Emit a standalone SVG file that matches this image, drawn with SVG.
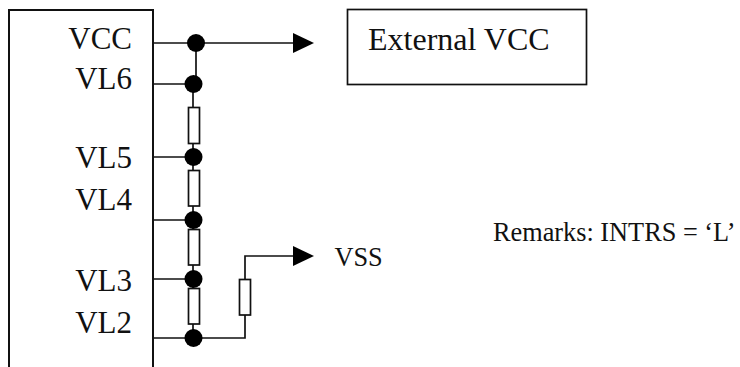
<svg xmlns="http://www.w3.org/2000/svg" width="740" height="367" viewBox="0 0 740 367">
<defs>
<marker id="arrow" markerUnits="userSpaceOnUse" markerWidth="21" markerHeight="21" refX="0" refY="10.5" orient="auto"><path d="M0 0.5L21 10.5L0 20.5Z" fill="#000"/></marker>
</defs>
<style>
text{font-family:"Liberation Serif","Times New Roman",serif;fill:#111}
.big{font-size:31px}
.ext{font-size:32px}
.pin{text-anchor:end}
.small{font-size:26.300px}
.wire{fill:none;stroke:#111;stroke-width:1.700}
.res{fill:#fff;stroke:#111;stroke-width:1.700}
.dot{fill:#000}
.box{fill:#fff;stroke:#111;stroke-width:1.700}
</style>
<rect width="740" height="367" fill="#fff"/>
<g id="chip">
<path d="M9 367V10H153V367" fill="none" stroke="#111" stroke-width="2"/>
<text class="big pin" x="132" y="49">VCC</text>
<text class="big pin" x="132" y="89">VL6</text>
<text class="big pin" x="132" y="168">VL5</text>
<text class="big pin" x="132" y="210">VL4</text>
<text class="big pin" x="132" y="291">VL3</text>
<text class="big pin" x="132" y="333">VL2</text>
</g>
<g id="external-vcc">
<rect class="box" x="347.500" y="9.500" width="239" height="75"/>
<text class="ext" x="368" y="50">External VCC</text>
</g>
<g id="connectors">
<path class="wire" d="M153 43H293" marker-end="url(#arrow)"/>
<path class="wire" d="M196 43V84"/>
<path class="wire" d="M153 84H193"/>
<path class="wire" d="M193 84V338"/>
<path class="wire" d="M153 157H193"/>
<path class="wire" d="M153 220H193"/>
<path class="wire" d="M153 279H193"/>
<path class="wire" d="M153 338H245V256H293" marker-end="url(#arrow)"/>
</g>
<g id="r1"><rect class="res" x="188.500" y="107.500" width="11" height="36"/></g>
<g id="r2"><rect class="res" x="188.500" y="170.500" width="11" height="35.500"/></g>
<g id="r3"><rect class="res" x="188.500" y="229.500" width="11" height="35.500"/></g>
<g id="r4"><rect class="res" x="188.500" y="288.500" width="11" height="35.500"/></g>
<g id="r5"><rect class="res" x="239.500" y="279.500" width="11" height="35.500"/></g>
<g id="d1"><circle class="dot" cx="196" cy="43" r="9"/></g>
<g id="d2"><circle class="dot" cx="193.500" cy="84" r="9"/></g>
<g id="d3"><circle class="dot" cx="193.500" cy="157" r="9"/></g>
<g id="d4"><circle class="dot" cx="193.500" cy="220" r="9"/></g>
<g id="d5"><circle class="dot" cx="193.500" cy="279" r="9"/></g>
<g id="d6"><circle class="dot" cx="193.500" cy="338" r="9"/></g>
<g id="vss"><text class="small" x="334.500" y="266">VSS</text></g>
<g id="remarks"><text class="small" x="493" y="241">Remarks: INTRS = ‘L’</text></g>
</svg>
